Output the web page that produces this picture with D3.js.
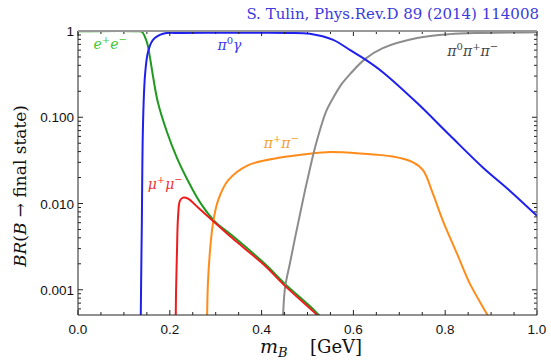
<!DOCTYPE html>
<html>
<head>
<meta charset="utf-8">
<script src="https://cdn.jsdelivr.net/npm/d3@7"></script>
<style>
  body { margin: 0; background: #fff; }
  .tick-label { font-family: "Liberation Sans", Arial, sans-serif; font-size: 13.5px; fill: #111; }
  .serif { font-family: "DejaVu Serif", "Liberation Serif", serif; }
</style>
</head>
<body>
<script>
// B boson branching ratios vs mass

const w = 551;
const h = 360;
const margin = {left: 78, right: 14, top: 31, bottom: 45};

// mass points [GeV] and branching ratios for each channel
const mEE  = [0.00, 0.130, 0.139, 0.150, 0.157, 0.163, 0.174, 0.194, 0.216, 0.237, 0.266, 0.298, 0.336, 0.407, 0.451, 0.516, 0.535];
const brEE = [0.995, 0.995, 0.98, 0.745, 0.485, 0.308, 0.149, 0.067, 0.0334, 0.0195, 0.0103, 0.0062, 0.00425, 0.0020, 0.00117, 0.00057, 0.00044];

const mMuMu  = [0.2113, 0.2135, 0.2157, 0.2179, 0.2222, 0.2288, 0.2397, 0.2614, 0.2985, 0.3355, 0.4074, 0.451, 0.516, 0.535];
const brMuMu = [0.00005, 0.0009, 0.00284, 0.0069, 0.0108, 0.0117, 0.0114, 0.0090, 0.0060, 0.0040, 0.0019, 0.00111, 0.00054, 0.00043];

const mPiGamma  = [0.1350, 0.1375, 0.139, 0.1416, 0.146, 0.1525, 0.163, 0.185, 0.222, 0.30, 0.40, 0.46, 0.505, 0.556, 0.593, 0.625, 0.664, 0.739, 0.810, 0.882, 0.940, 1.0];
const brPiGamma = [0.00005, 0.0012, 0.0055, 0.081, 0.308, 0.57, 0.786, 0.93, 0.95, 0.955, 0.955, 0.95, 0.93, 0.79, 0.60, 0.47, 0.333, 0.146, 0.0618, 0.0262, 0.0142, 0.0072];

const mPiPi  = [0.2792, 0.281, 0.283, 0.2876, 0.294, 0.305, 0.327, 0.370, 0.444, 0.510, 0.542, 0.614, 0.686, 0.730, 0.752, 0.773, 0.795, 0.826, 0.854, 0.893, 0.905];
const brPiPi = [0.00005, 0.0004, 0.00117, 0.00284, 0.00585, 0.0108, 0.0185, 0.0277, 0.0343, 0.0381, 0.0394, 0.0381, 0.0350, 0.0300, 0.0242, 0.0131, 0.0063, 0.0026, 0.00117, 0.0005, 0.00038];

const m3Pi  = [0.4142, 0.443, 0.451, 0.462, 0.473, 0.484, 0.4946, 0.5054, 0.516, 0.527, 0.540, 0.556, 0.575, 0.593, 0.625, 0.664, 0.739, 0.810, 0.882, 1.0];
const br3Pi = [0.00005, 0.0003, 0.00105, 0.00206, 0.00402, 0.00765, 0.0142, 0.0255, 0.0436, 0.0706, 0.115, 0.168, 0.245, 0.318, 0.472, 0.634, 0.83, 0.92, 0.95, 0.97];

const yTicks = [1, 0.1, 0.01, 0.001];
const yTickLabels = ["1", "0.100", "0.010", "0.001"];
const xTicks = [0, 0.2, 0.4, 0.6, 0.8, 1.0];
const xTickLabels = ["0.0", "0.2", "0.4", "0.6", "0.8", "1.0"];

const series = [
  {m: mEE, br: brEE, color: "#1f9a1f"},
  {m: mPiPi, br: brPiPi, color: "#ff8c1a"},
  {m: m3Pi, br: br3Pi, color: "#8c8c8c"},
  {m: mMuMu, br: brMuMu, color: "#ee1c1c"},
  {m: mPiGamma, br: brPiGamma, color: "#1f1fee"}
];

const svg = d3.select("body")
  .append("svg")
  .attr("width", w)
  .attr("height", h);

const x = d3.scaleLinear()
  .domain([0, 1])
  .range([margin.left, w - margin.right]);

const y = d3.scaleLog()
  .domain([0.00051, 1])
  .range([h - margin.bottom, margin.top]);

svg.append("clipPath")
  .attr("id", "plot")
  .append("rect")
  .attr("x", x(0))
  .attr("y", y(1) - 2)
  .attr("width", x(1) - x(0))
  .attr("height", y(0.00051) - y(1) + 2);

const line = d3.line()
  .x(d => x(d[0]))
  .y(d => y(d[1]))
  .curve(d3.curveCatmullRom.alpha(0.5));

const curves = svg.append("g").attr("clip-path", "url(#plot)");

series.forEach(s => {
  curves.append("path")
    .datum(s.m.map((m, i) => [m, s.br[i]]))
    .attr("fill", "none")
    .attr("stroke", s.color)
    .attr("stroke-width", 2)
    .attr("d", line);
});

// frame with inward ticks
const minorY = [];
[0.0001, 0.001, 0.01, 0.1].forEach(dec => {
  for (let k = 2; k <= 9; k++) {
    const v = dec * k;
    if (v >= 0.00051 && v < 1) minorY.push(v);
  }
});
const minorX = d3.range(0.05, 1, 0.05).filter(v => Math.abs(v * 5 - Math.round(v * 5)) > 1e-6);

const frame = svg.append("g").attr("stroke", "#222").attr("stroke-width", 1);

[x(0), x(1)].forEach((px, side) => {
  const dir = side === 0 ? 1 : -1;
  frame.selectAll(null).data(yTicks).enter().append("line")
    .attr("x1", px).attr("x2", px + dir * 5)
    .attr("y1", d => y(d)).attr("y2", d => y(d));
  frame.selectAll(null).data(minorY).enter().append("line")
    .attr("x1", px).attr("x2", px + dir * 3)
    .attr("y1", d => y(d)).attr("y2", d => y(d));
});

[y(0.00051), y(1)].forEach((py, side) => {
  const dir = side === 0 ? -1 : 1;
  frame.selectAll(null).data(xTicks).enter().append("line")
    .attr("x1", d => x(d)).attr("x2", d => x(d))
    .attr("y1", py).attr("y2", py + dir * 5);
  frame.selectAll(null).data(minorX).enter().append("line")
    .attr("x1", d => x(d)).attr("x2", d => x(d))
    .attr("y1", py).attr("y2", py + dir * 3);
});

frame.append("line")
  .attr("x1", x(0)).attr("x2", x(0))
  .attr("y1", y(1)).attr("y2", y(0.00051));
frame.append("line")
  .attr("x1", x(1)).attr("x2", x(1))
  .attr("y1", y(1)).attr("y2", y(0.00051))
  .attr("stroke", "#555");
frame.append("line")
  .attr("x1", x(0)).attr("x2", x(1))
  .attr("y1", y(0.00051)).attr("y2", y(0.00051));
frame.append("line")
  .attr("x1", x(0)).attr("x2", x(1))
  .attr("y1", y(1)).attr("y2", y(1))
  .attr("stroke", "#999")
  .attr("stroke-width", 2);

// tick labels
svg.selectAll(null).data(yTicks).enter().append("text")
  .attr("class", "tick-label")
  .attr("x", x(0) - 4)
  .attr("y", d => y(d) + 5)
  .attr("text-anchor", "end")
  .text((d, i) => yTickLabels[i]);

svg.selectAll(null).data(xTicks).enter().append("text")
  .attr("class", "tick-label")
  .attr("x", d => x(d))
  .attr("y", y(0.00051) + 19)
  .attr("text-anchor", "middle")
  .text((d, i) => xTickLabels[i]);

// curve labels
const labels = [
  {m: 0.07, br: 0.62, color: "#44c833", parts: [["e", "i"], ["+", "sup"], ["e", "i"], ["\u2212", "sup"]]},
  {m: 0.33, br: 0.60, color: "#3a3aee", parts: [["\u03c0", "i"], ["0", "sup"], ["\u03b3", "i"]]},
  {m: 0.86, br: 0.51, color: "#444", parts: [["\u03c0", "i"], ["0", "sup"], ["\u03c0", "i"], ["+", "sup"], ["\u03c0", "i"], ["\u2212", "sup"]]},
  {m: 0.443, br: 0.0436, color: "#f5a030", parts: [["\u03c0", "i"], ["+", "sup"], ["\u03c0", "i"], ["\u2212", "sup"]]},
  {m: 0.19, br: 0.0149, color: "#ee3333", parts: [["\u03bc", "i"], ["+", "sup"], ["\u03bc", "i"], ["\u2212", "sup"]]}
];

labels.forEach(l => {
  const t = svg.append("text")
    .attr("class", "serif")
    .attr("x", x(l.m))
    .attr("y", y(l.br))
    .attr("text-anchor", "middle")
    .attr("fill", l.color)
    .style("font-size", "14px");
  l.parts.forEach(p => {
    const ts = t.append("tspan").text(p[0]);
    if (p[1] === "i") ts.style("font-style", "italic");
    if (p[1] === "sup") ts.attr("dy", -6).style("font-size", "10px");
    else if (t.node().childNodes.length > 1) ts.attr("dy", 6);
  });
});

// title
svg.append("text")
  .attr("class", "serif")
  .attr("x", w - 12)
  .attr("y", 19)
  .attr("text-anchor", "end")
  .attr("fill", "#3a3add")
  .style("font-size", "15px")
  .text("S. Tulin, Phys.Rev.D 89 (2014) 114008");

// axis titles
const xt = svg.append("text")
  .attr("class", "serif")
  .attr("x", 260)
  .attr("y", 353)
  .attr("fill", "#111")
  .style("font-size", "19px");
xt.append("tspan").text("m").style("font-style", "italic");
xt.append("tspan").text("B").style("font-style", "italic").style("font-size", "13px").attr("dy", 4);
xt.append("tspan").text("[GeV]").attr("x", 310).attr("dy", -4).style("font-size", "18px");

const yt = svg.append("text")
  .attr("class", "serif")
  .attr("transform", `translate(26,${186}) rotate(-90)`)
  .attr("text-anchor", "middle")
  .attr("fill", "#111")
  .style("font-size", "17px");
yt.append("tspan").text("BR").style("font-style", "italic");
yt.append("tspan").text("(");
yt.append("tspan").text("B").style("font-style", "italic");
yt.append("tspan").text(" \u2192 final state)");
</script>
</body>
</html>
